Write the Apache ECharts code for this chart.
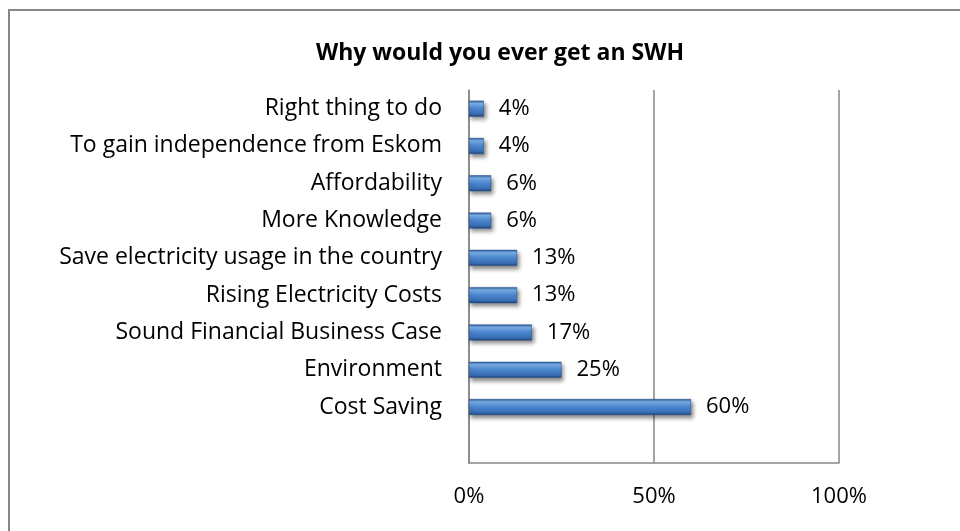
<!DOCTYPE html>
<html>
<head>
<meta charset="utf-8">
<script src="https://cdn.jsdelivr.net/npm/echarts@6/dist/echarts.min.js"></script>
<style>
html, body { margin: 0; padding: 0; background: #fff; }
#chart { width: 960px; height: 531px; }
</style>
</head>
<body>
<div id="chart"></div>
<script>
// top to bottom, as in the picture
var reasons = [
  'Right thing to do',
  'To gain independence from Eskom',
  'Affordability',
  'More Knowledge',
  'Save electricity usage in the country',
  'Rising Electricity Costs',
  'Sound Financial Business Case',
  'Environment',
  'Cost Saving'
]
var shares = [4, 4, 6, 6, 13, 13, 17, 25, 60]
var xTicks = [0, 50, 100]

var myChart = echarts.init(document.getElementById('chart'))
var font = '"Open Sans", sans-serif'

// one empty slot under the last bar
var cats = reasons.concat([''])
var vals = shares.concat([null])

var option = {
  backgroundColor: '#ffffff',
  animation: false,
  title: {
    text: 'Why would you ever get an SWH',
    left: 495,
    top: 37,
    textAlign: 'center',
    textStyle: { fontFamily: font, fontSize: 23, fontWeight: 'bold', color: '#000' }
  },
  graphic: [{
    type: 'rect',
    shape: { x: 9, y: 10, width: 1000, height: 600 },
    style: { fill: 'none', stroke: '#868686', lineWidth: 2 },
    z: 100
  }],
  grid: { left: 469, top: 90, right: 121, bottom: 68 },
  xAxis: {
    type: 'value',
    min: xTicks[0],
    max: xTicks[xTicks.length - 1],
    interval: xTicks[1] - xTicks[0],
    axisLine: { show: true, lineStyle: { color: '#868686', width: 1.5 } },
    axisTick: { show: false },
    splitLine: { show: true, lineStyle: { color: '#868686', width: 1.5 } },
    axisLabel: {
      margin: 23,
      fontFamily: font, fontSize: 22, color: '#000',
      formatter: '{value}%'
    }
  },
  yAxis: {
    type: 'category',
    inverse: true,
    data: cats,
    axisLine: { show: true, lineStyle: { color: '#868686', width: 1.5 } },
    axisTick: { show: false },
    axisLabel: { margin: 27, fontFamily: font, fontSize: 23, color: '#000' }
  },
  series: [{
    type: 'bar',
    data: vals,
    barWidth: 16,
    itemStyle: {
      color: new echarts.graphic.LinearGradient(0, 0, 0, 1, [
        { offset: 0, color: '#2a5a98' },
        { offset: 0.18, color: '#7db0ea' },
        { offset: 0.5, color: '#4a86cf' },
        { offset: 0.82, color: '#3a6fb5' },
        { offset: 1, color: '#1d4579' }
      ]),
      borderColor: '#24508a',
      borderWidth: 0.5,
      shadowColor: 'rgba(0,0,0,0.45)',
      shadowBlur: 4,
      shadowOffsetX: 2,
      shadowOffsetY: 3
    },
    label: {
      show: true,
      position: 'right',
      distance: 15,
      fontFamily: font,
      fontSize: 22,
      color: '#000',
      formatter: '{c}%'
    }
  }]
}
myChart.setOption(option)
</script>
</body>
</html>
